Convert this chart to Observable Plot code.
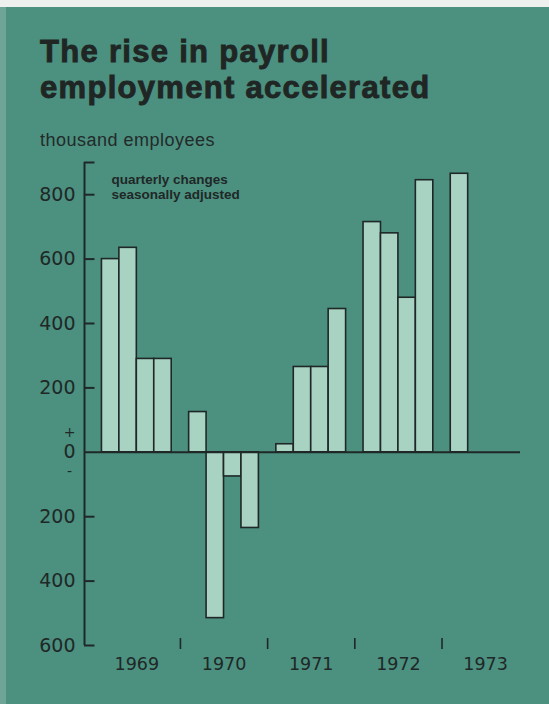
<!DOCTYPE html>
<html>
<head>
<meta charset="utf-8">
<script src="https://cdn.jsdelivr.net/npm/d3@7"></script>
<script src="https://cdn.jsdelivr.net/npm/@observablehq/plot@0.6"></script>
<style>
  html, body { margin: 0; padding: 0; }
  body { width: 549px; height: 704px; background: #eef0ee; position: relative; overflow: hidden; }
  #strip { position: absolute; left: 0; top: 7px; width: 6px; bottom: 0; background: #6ea597; }
  #panel { position: absolute; left: 6px; top: 7px; right: 0; bottom: 0; background: #4c9080; }
  #title { position: absolute; left: 40px; top: 34px; font-family: "Liberation Sans", Arial, sans-serif; font-weight: 700; font-size: 31px; line-height: 36px; letter-spacing: 1.3px; color: #1f2624; -webkit-text-stroke: 0.9px #1f2624; white-space: nowrap; }
  #unit { position: absolute; left: 40px; top: 130px; font-family: "Liberation Sans", Arial, sans-serif; font-size: 18px; line-height: 20px; letter-spacing: 0.5px; color: #222b29; white-space: nowrap; }
  #chart { position: absolute; left: 0; top: 155px; }
</style>
</head>
<body>
<div id="strip"></div>
<div id="panel"></div>
<div id="title">The rise in payroll<br>employment accelerated</div>
<div id="unit">thousand employees</div>
<div id="chart"></div>
<script>
// Quarterly changes in payroll employment, thousand employees (seasonally adjusted)
const years = ["1969", "1970", "1971", "1972", "1973"];
const q1969 = [600, 635, 290, 290];
const q1970 = [125, -515, -75, -235];
const q1971 = [25, 265, 265, 445];
const q1972 = [715, 680, 480, 845];
const q1973 = [865];
const yTickValues = [900, 800, 600, 400, 200, -200, -400, -600];
const yTickLabels = ["", "800", "600", "400", "200", "200", "400", "600"];
const note = "quarterly changes\nseasonally adjusted";

const dark = "#1f2826";
const barFill = "#a8d3c3";
const slotsPerYear = 5; // four quarters plus a gap

const rows = [q1969, q1970, q1971, q1972, q1973].flatMap((arr, yi) =>
  arr.map((v, qi) => ({year: years[yi], quarter: qi + 1, value: v, slot: 1 + yi * slotsPerYear + qi}))
);
const yearRows = years.map((y, i) => ({year: y, center: 1 + i * slotsPerYear + 2}));
const seps = years.slice(1).map((y, i) => ({slot: 1 + i * slotsPerYear + 4.5}));
const yTicks = yTickValues.map((v, i) => ({value: v, label: yTickLabels[i]}));
const xMax = years.length * slotsPerYear;
const yMin = d3.min(yTickValues), yMax = d3.max(yTickValues);

const chart = Plot.plot({
  width: 549,
  height: 549,
  marginLeft: 84,
  marginRight: 29,
  marginTop: 7,
  marginBottom: 59,
  style: {background: "transparent", fontFamily: "DejaVu Sans, sans-serif", color: dark, overflow: "visible"},
  x: {domain: [0, xMax], axis: null},
  y: {domain: [yMin, yMax], axis: null},
  marks: [
    Plot.rect(rows, {x1: "slot", x2: d => d.slot + 1, y1: 0, y2: "value", fill: barFill, stroke: dark, strokeWidth: 1.6}),
    Plot.ruleY([0], {x1: 0, x2: xMax, stroke: dark, strokeWidth: 2}),
    Plot.ruleX([0], {y1: yMin, y2: yMax, stroke: dark, strokeWidth: 2}),
    Plot.ruleY(yTicks, {y: "value", x1: 0, x2: 0.6, stroke: dark, strokeWidth: 2}),
    Plot.text(yTicks, {y: "value", text: "label", frameAnchor: "left", textAnchor: "end", dx: -9, fontSize: 19, fill: dark}),
    Plot.text(["0"], {y: 0, frameAnchor: "left", textAnchor: "middle", dx: -15, fontSize: 19, fill: dark}),
    Plot.text(["+"], {y: 0, frameAnchor: "left", textAnchor: "middle", dx: -15, dy: -20, fontSize: 14, fill: dark}),
    Plot.text(["-"], {y: 0, frameAnchor: "left", textAnchor: "middle", dx: -15, dy: 19, fontSize: 14, fill: dark}),
    Plot.ruleX(seps, {x: "slot", y1: yMin, y2: yMin + 34, dy: 4, stroke: dark, strokeWidth: 1.6}),
    Plot.text(yearRows, {x: "center", text: "year", frameAnchor: "bottom", dy: 24, fontSize: 17.5, fill: dark}),
    Plot.text([note], {frameAnchor: "top-left", dx: 27, dy: 10, lineAnchor: "top", lineHeight: 1.15, fontSize: 13.5, fontWeight: 700, fontFamily: "Liberation Sans, Arial, sans-serif", fill: dark})
  ]
});
document.getElementById("chart").appendChild(chart);
</script>
</body>
</html>
